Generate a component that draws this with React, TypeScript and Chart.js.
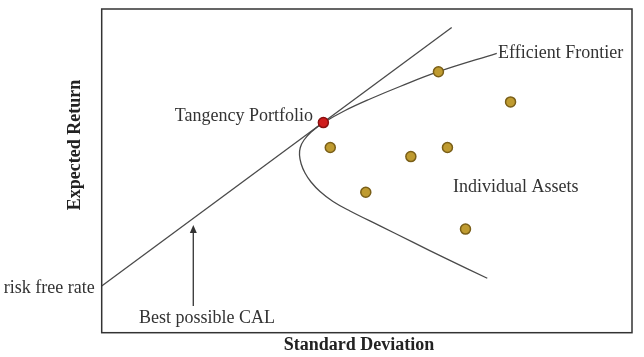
import React, { useEffect, useRef } from "react";
import { Chart, registerables } from "chart.js";

Chart.register(...registerables);

// Data (x = standard deviation, y = expected return, arbitrary 0–100 units)
const assetSigma = [43.1, 63.5, 77.1, 58.3, 65.2, 49.8, 68.6];
const assetReturn = [57.2, 80.6, 71.3, 54.4, 57.2, 43.4, 32.0];

const tangencySigma = [41.8];
const tangencyReturn = [64.9];

const calSigma = [0, 66.0];
const calReturn = [14.4, 94.3];

const frontierSigma = [74.5, 63.5, 56.25, 50.6, 45.9, 41.8, 39.5, 38.15, 37.45, 37.3, 37.62, 38.34, 39.47, 41.17, 43.62, 46.82, 52.48, 58.66, 65.07, 72.71];
const frontierReturn = [86.3, 80.63, 76.06, 72.2, 68.64, 64.87, 62.0, 59.53, 57.21, 54.9, 52.11, 49.34, 46.56, 43.63, 40.54, 37.6, 32.99, 27.98, 22.8, 16.81];

const labels = ["Tangency Portfolio", "Efficient Frontier", "Individual Assets", "Best possible CAL", "risk free rate"];
const xTitle = "Standard Deviation";
const yTitle = "Expected Return";

const FONT = '"Liberation Serif", "Times New Roman", serif';
const TEXT = "#333333";
const LINE = "#4a4a4a";

const zip = (xs: number[], ys: number[]) => xs.map((x, i) => ({ x, y: ys[i] }));

const annotationPlugin = {
  id: "annotations",
  afterDraw(chart: any) {
    const { ctx, chartArea, scales } = chart;
    const X = (v: number) => scales.x.getPixelForValue(v);
    const Y = (v: number) => scales.y.getPixelForValue(v);
    ctx.save();
    // frame
    ctx.strokeStyle = "#333333";
    ctx.lineWidth = 1.5;
    ctx.strokeRect(chartArea.left, chartArea.top, chartArea.right - chartArea.left, chartArea.bottom - chartArea.top);

    ctx.fillStyle = TEXT;
    ctx.font = `18px ${FONT}`;
    ctx.textBaseline = "alphabetic";
    // Tangency Portfolio
    ctx.textAlign = "right";
    ctx.fillText(labels[0], X(39.85), Y(65.4));
    // Efficient Frontier
    ctx.textAlign = "left";
    ctx.fillText(labels[1], X(74.73), Y(84.86));
    // Individual Assets
    ctx.fillText(labels[2], X(66.25), Y(43.47));
    // Best possible CAL
    ctx.fillText(labels[3], X(7.03), Y(3.0));
    // risk free rate
    ctx.textAlign = "right";
    ctx.fillText(labels[4], chartArea.left - 7, Y(12.26));

    // arrow
    const ax = X(17.27);
    const ay0 = Y(8.25);
    const ay1 = Y(33.27);
    ctx.strokeStyle = "#333333";
    ctx.lineWidth = 1.3;
    ctx.beginPath();
    ctx.moveTo(ax, ay0);
    ctx.lineTo(ax, ay1 + 6);
    ctx.stroke();
    ctx.fillStyle = "#333333";
    ctx.beginPath();
    ctx.moveTo(ax, ay1);
    ctx.lineTo(ax - 3.5, ay1 + 8);
    ctx.lineTo(ax + 3.5, ay1 + 8);
    ctx.closePath();
    ctx.fill();

    // axis titles
    ctx.fillStyle = "#222222";
    ctx.font = `bold 18px ${FONT}`;
    ctx.textAlign = "center";
    ctx.fillText(xTitle, 359, 350);
    ctx.save();
    ctx.translate(80, 145);
    ctx.rotate(-Math.PI / 2);
    ctx.fillText(yTitle, 0, 0);
    ctx.restore();

    ctx.restore();
  },
};

export default function App() {
  const ref = useRef<HTMLCanvasElement | null>(null);
  useEffect(() => {
    if (!ref.current) return;
    const chart = new Chart(ref.current, {
      type: "scatter",
      data: {
        datasets: [
          {
            label: "Tangency",
            data: zip(tangencySigma, tangencyReturn),
            pointRadius: 5,
            pointBorderWidth: 1.5,
            backgroundColor: "#D01C1C",
            borderColor: "#8A1010",
            order: 0,
          },
          {
            label: "Assets",
            data: zip(assetSigma, assetReturn),
            pointRadius: 5,
            pointBorderWidth: 1.5,
            backgroundColor: "#BF9B30",
            borderColor: "#7A5F18",
            order: 1,
          },
          {
            label: "CAL",
            data: zip(calSigma, calReturn),
            showLine: true,
            pointRadius: 0,
            borderColor: LINE,
            borderWidth: 1.3,
            order: 2,
          },
          {
            label: "Frontier",
            data: zip(frontierSigma, frontierReturn),
            showLine: true,
            pointRadius: 0,
            borderColor: LINE,
            borderWidth: 1.3,
            tension: 0.4,
            order: 3,
          },
        ],
      },
      options: {
        animation: false,
        responsive: false,
        maintainAspectRatio: false,
        layout: { padding: { left: 101.7, right: 12, top: 9, bottom: 24.3 } },
        scales: {
          x: { type: "linear", min: 0, max: 100, display: false },
          y: { type: "linear", min: 0, max: 100, display: false },
        },
        plugins: { legend: { display: false }, tooltip: { enabled: false } },
        events: [],
      },
      plugins: [annotationPlugin],
    });
    return () => chart.destroy();
  }, []);
  return (
    <div style={{ position: "fixed", left: 0, top: 0, width: 644, height: 357, background: "#ffffff" }}>
      <canvas ref={ref} width={644} height={357} style={{ width: 644, height: 357, display: "block" }} />
    </div>
  );
}
